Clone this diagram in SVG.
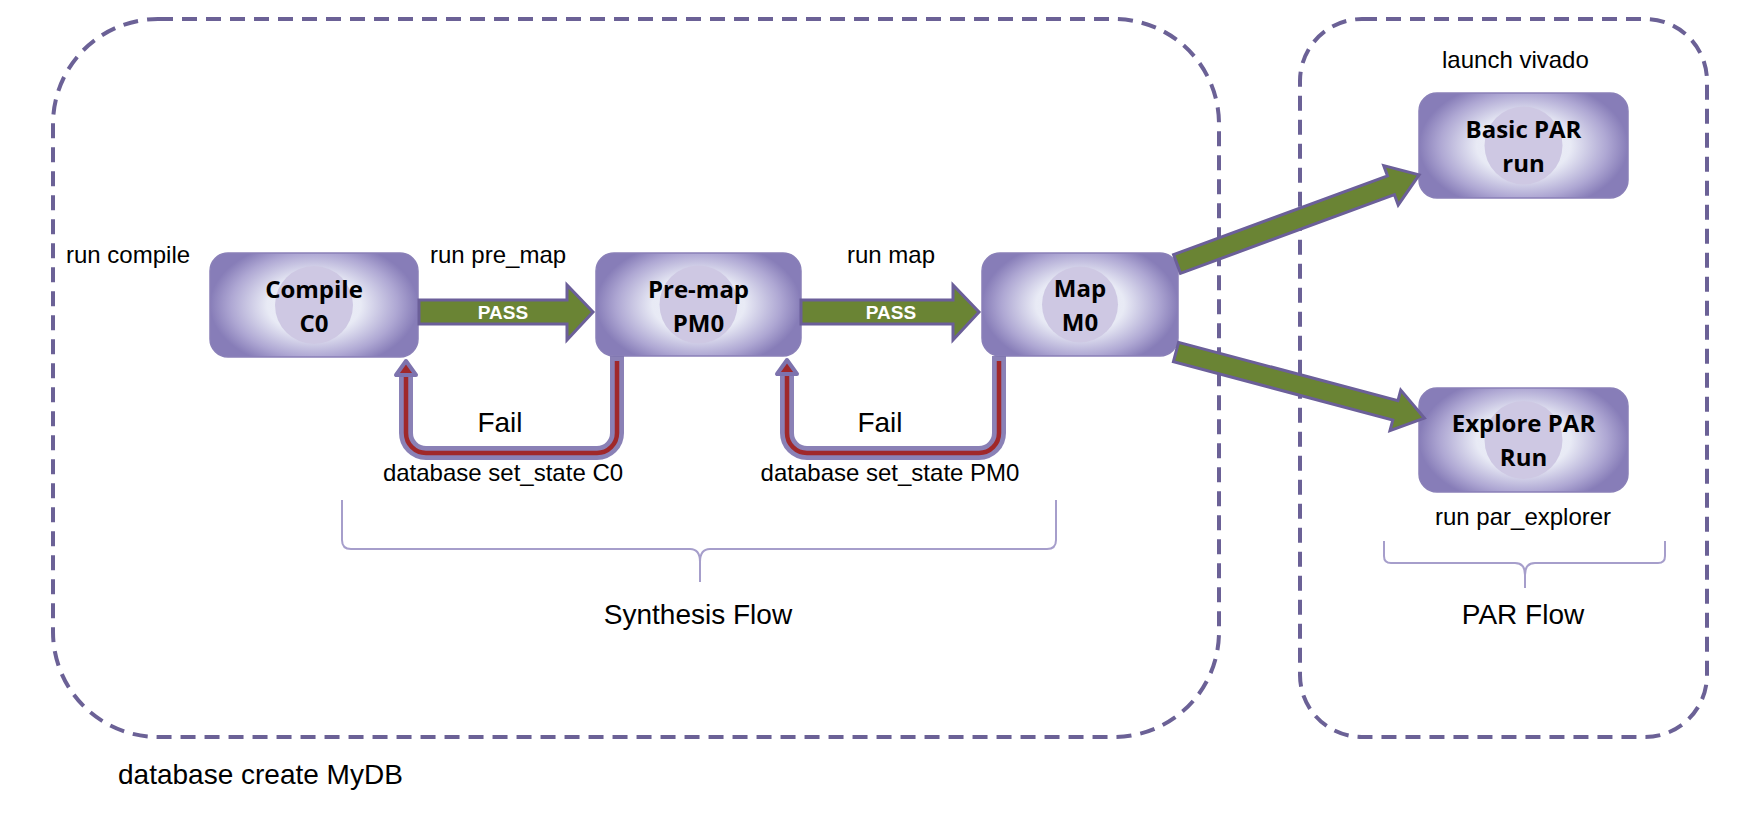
<svg xmlns="http://www.w3.org/2000/svg" width="1756" height="818" viewBox="0 0 1756 818">
<defs>
<radialGradient id="boxg" cx="0.5" cy="0.5" r="0.5" gradientTransform="translate(0.5,0.5) scale(1,1.25) translate(-0.5,-0.5)">
<stop offset="0" stop-color="#eef0f9"/>
<stop offset="0.45" stop-color="#e8eaf5"/>
<stop offset="0.8" stop-color="#aea7d3"/>
<stop offset="1" stop-color="#877db8"/>
</radialGradient>
</defs>
<style>
.region{fill:none;stroke:#6b6196;stroke-width:4;stroke-dasharray:15 9}
.box{fill:url(#boxg);stroke:#8a80b8;stroke-width:1.5}
.core{fill:#cec8e3}
.lbl{font-family:"Open Sans",Lato,sans-serif;font-weight:bold;font-size:24px;fill:#000;text-anchor:middle}
.t{font-family:"Liberation Sans",Arial,sans-serif;font-size:24px;fill:#000}
.big{font-family:"Liberation Sans",Arial,sans-serif;font-size:28px;fill:#000}
.pass{fill:#6a8434;stroke:#6b5f99;stroke-width:3;stroke-linejoin:miter}
.passtxt{font-family:"Liberation Sans",Arial,sans-serif;font-weight:bold;font-size:19px;fill:#fff;text-anchor:middle}
.glow{fill:none;stroke:#7d73ae;stroke-width:14;stroke-opacity:0.9}
.red{fill:none;stroke:#a0282a;stroke-width:4.5}
.redhead{fill:#a0282a;stroke:#7d73ae;stroke-width:4;stroke-linejoin:round}
.brace{fill:none;stroke:#a69ecb;stroke-width:2}
</style>
<rect class="region" x="53" y="19" width="1166" height="718" rx="105" ry="105"/>
<rect class="region" x="1300" y="19" width="407" height="718" rx="62" ry="62"/>

<g id="compile">
<rect class="box" x="210" y="253" width="208" height="104" rx="18"/>
<circle class="core" cx="314" cy="305" r="39"/>
<text class="lbl" x="314" y="298">Compile</text>
<text class="lbl" x="314" y="332">C0</text>
</g>
<g id="premap">
<rect class="box" x="596" y="253" width="205" height="103" rx="18"/>
<circle class="core" cx="698.5" cy="304.5" r="39"/>
<text class="lbl" x="698.5" y="298">Pre-map</text>
<text class="lbl" x="698.5" y="332">PM0</text>
</g>
<g id="map">
<rect class="box" x="982" y="253" width="196" height="103" rx="18"/>
<circle class="core" cx="1080" cy="304.5" r="38"/>
<text class="lbl" x="1080" y="297">Map</text>
<text class="lbl" x="1080" y="331">M0</text>
</g>
<g id="basicpar">
<rect class="box" x="1419" y="93" width="209" height="105" rx="18"/>
<circle class="core" cx="1523.5" cy="145.5" r="39"/>
<text class="lbl" x="1523.5" y="138">Basic PAR</text>
<text class="lbl" x="1523.5" y="172">run</text>
</g>
<g id="explorepar">
<rect class="box" x="1419" y="388" width="209" height="104" rx="18"/>
<circle class="core" cx="1523.5" cy="440" r="39"/>
<text class="lbl" x="1523.5" y="432">Explore PAR</text>
<text class="lbl" x="1523.5" y="466">Run</text>
</g>

<g id="connectors">
<polygon class="pass" points="419,300 567,300 567,285 593,312 567,340 567,324 419,324"/>
<text class="passtxt" x="503" y="319">PASS</text>
<polygon class="pass" points="801,300 953,300 953,285 979,312 953,340 953,324 801,324"/>
<text class="passtxt" x="891" y="319">PASS</text>
<polygon class="pass" transform="translate(1177,264) rotate(-20.2)" points="0,-10 228,-10 228,-21 258,0 228,21 228,10 0,10"/>
<polygon class="pass" transform="translate(1176,352) rotate(14.9)" points="0,-10 227,-10 227,-21 257,0 227,21 227,10 0,10"/>

<path class="glow" d="M617,356 V433 A20,20 0 0 1 597,453 H426 A20,20 0 0 1 406,433 V374"/>
<path class="red" d="M617,361 V433 A20,20 0 0 1 597,453 H426 A20,20 0 0 1 406,433 V374"/>
<polygon class="redhead" points="406,361 396,375 416,375"/>

<path class="glow" d="M999,356 V433 A20,20 0 0 1 979,453 H807 A20,20 0 0 1 787,433 V374"/>
<path class="red" d="M999,361 V433 A20,20 0 0 1 979,453 H807 A20,20 0 0 1 787,433 V374"/>
<polygon class="redhead" points="787,360 777,374 797,374"/>
</g>

<g id="braces">
<path class="brace" d="M342,500 V540 Q342,549 351,549 H690 Q700,549 700,562 V582 M700,562 Q700,549 710,549 H1047 Q1056,549 1056,540 V500"/>
<path class="brace" d="M1384,541 V556 Q1384,563 1391,563 H1515 Q1525,563 1525,575 V588 M1525,575 Q1525,563 1535,563 H1658 Q1665,563 1665,556 V541"/>
</g>

<g id="labels">
<text class="t" x="66" y="263">run compile</text>
<text class="t" x="430" y="263">run pre_map</text>
<text class="t" x="847" y="263">run map</text>
<text class="t" x="1442" y="68">launch vivado</text>
<text class="t" x="1435" y="525">run par_explorer</text>
<text class="big" x="500" y="432" text-anchor="middle">Fail</text>
<text class="big" x="880" y="432" text-anchor="middle">Fail</text>
<text class="t" x="503" y="481" text-anchor="middle">database set_state C0</text>
<text class="t" x="890" y="481" text-anchor="middle">database set_state PM0</text>
<text class="big" x="698" y="624" text-anchor="middle">Synthesis Flow</text>
<text class="big" x="1523" y="624" text-anchor="middle">PAR Flow</text>
<text class="big" x="118" y="784">database create MyDB</text>
</g>
</svg>
